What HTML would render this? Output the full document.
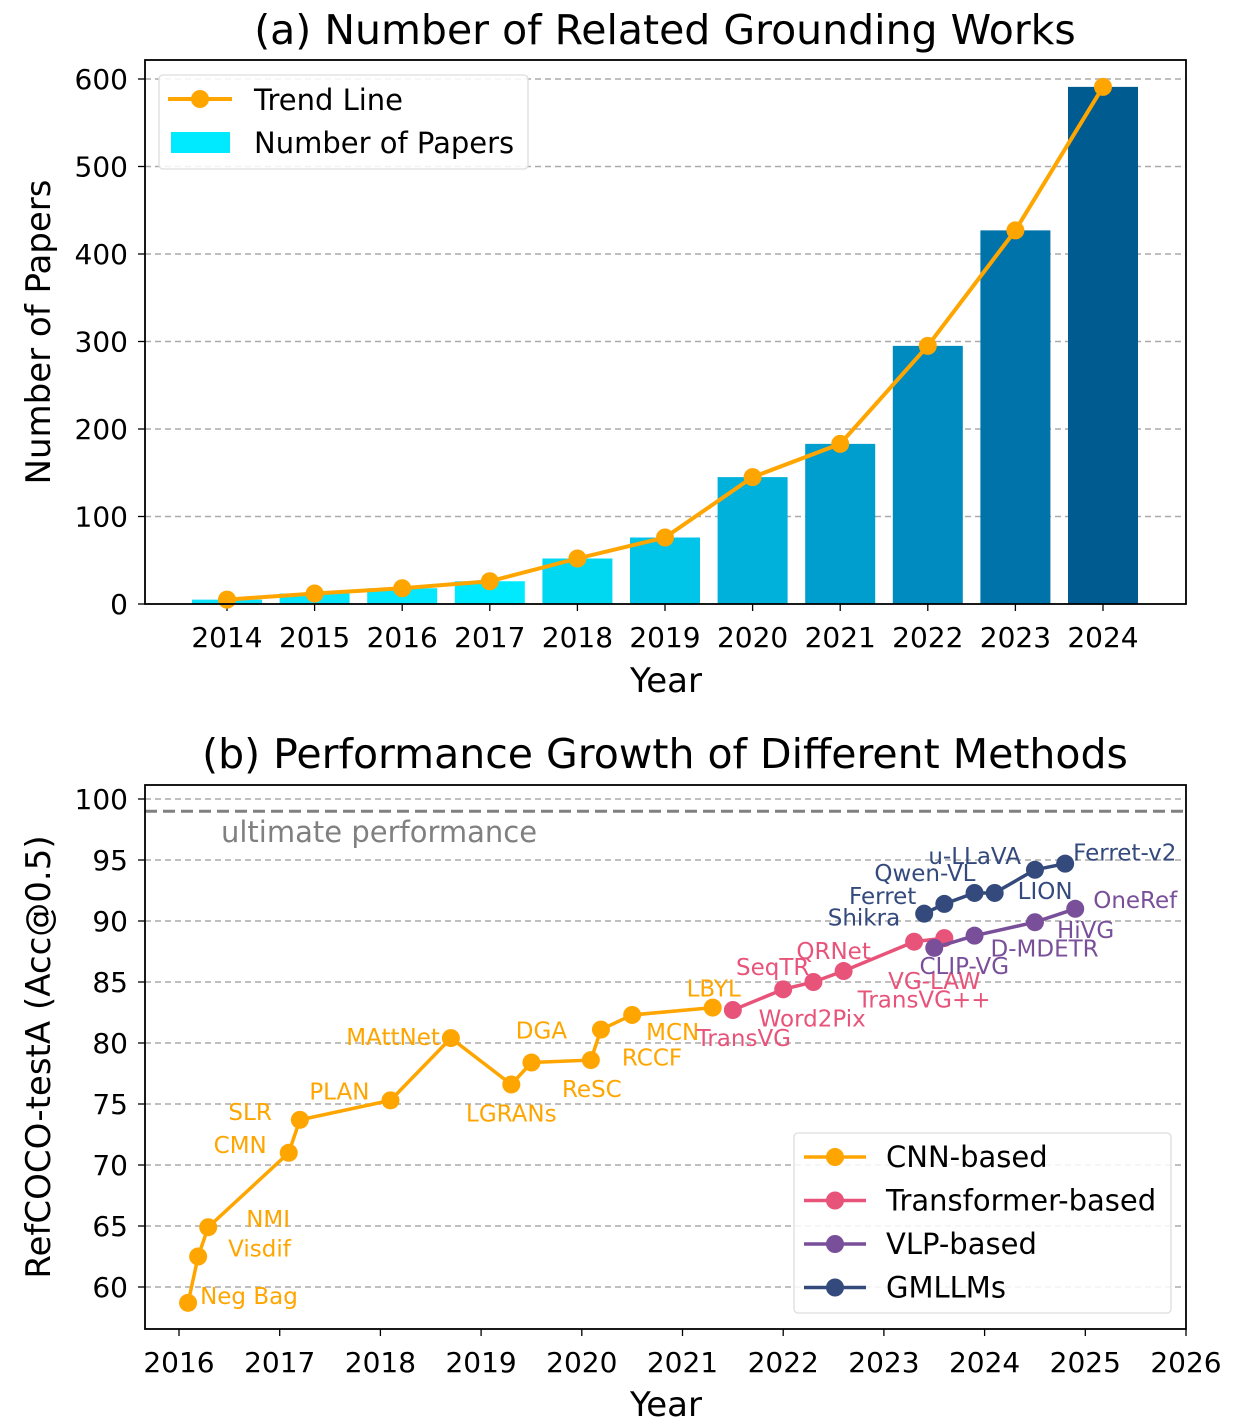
<!DOCTYPE html>
<html><head><meta charset="utf-8"><style>
body{margin:0;background:#fff}
svg{display:block;font-family:"DejaVu Sans","Liberation Sans",sans-serif}
</style></head><body>
<svg id="chart" width="1244" height="1426" viewBox="0 0 1244 1426" xmlns="http://www.w3.org/2000/svg">
<rect width="1244" height="1426" fill="#fff"/>
<g id="top"></g>
<g id="bot"></g>
</svg>
<script>
const years=[2014,2015,2016,2017,2018,2019,2020,2021,2022,2023,2024];
const papers=[5,12,18,26,52,76,145,183,295,427,591];
const barColors=['#10e2fa','#08e4fc','#04e7fe','#00eaff','#00d8f2','#00c4e8','#00b1dc','#009ecf','#008bc0','#0073aa','#005b91'];
const yTicksTop=[0,100,200,300,400,500,600];

const cnnX=[2016.09,2016.19,2016.29,2017.09,2017.2,2018.1,2018.7,2019.3,2019.5,2020.09,2020.19,2020.5,2021.3];
const cnnY=[58.7,62.5,64.9,71.0,73.7,75.3,80.4,76.6,78.4,78.6,81.1,82.3,82.9];
const cnnL=['Neg Bag','Visdif','NMI','CMN','SLR','PLAN','MAttNet','LGRANs','DGA','ReSC','RCCF','MCN','LBYL'];
const trX=[2021.5,2022.0,2022.3,2022.6,2023.3,2023.6];
const trY=[82.7,84.4,85.0,85.9,88.3,88.6];
const trL=['TransVG','Word2Pix','SeqTR','QRNet','TransVG++','VG-LAW'];
const vlpX=[2023.5,2023.9,2024.5,2024.9];
const vlpY=[87.8,88.8,89.9,91.0];
const vlpL=['CLIP-VG','D-MDETR','HiVG','OneRef'];
const gmX=[2023.4,2023.6,2023.9,2024.1,2024.5,2024.8];
const gmY=[90.6,91.4,92.3,92.3,94.2,94.7];
const gmL=['Shikra','Ferret','Qwen-VL','LION','u-LLaVA','Ferret-v2'];
const xTicksBot=[2016,2017,2018,2019,2020,2021,2022,2023,2024,2025,2026];
const yTicksBot=[60,65,70,75,80,85,90,95,100];

const NS='http://www.w3.org/2000/svg';
function mk(p,t,a,txt){const e=document.createElementNS(NS,t);for(const k in a)e.setAttribute(k,a[k]);if(txt!==undefined)e.textContent=txt;p.appendChild(e);return e;}

// ---- top chart
const T=document.getElementById('top');
const tx=y=>227+(y-2014)*87.6, ty=v=>604-v*0.875;
mk(T,'text',{x:665,y:44,'font-size':41,'text-anchor':'middle',},'(a) Number of Related Grounding Works');
yTicksTop.forEach(v=>{
 if(v>0){const g=mk(T,'line',{x1:145,x2:1186,y1:ty(v),y2:ty(v),stroke:'#aaa','stroke-dasharray':'6,4','stroke-width':1.5});}
 const l=mk(T,'text',{x:128,y:ty(v)+10,'font-size':28,'text-anchor':'end'},String(v));
 
 mk(T,'line',{x1:138,x2:145,y1:ty(v),y2:ty(v),stroke:'#000','stroke-width':1.3});
});
years.forEach((y,i)=>{
 const b=mk(T,'rect',{x:tx(y)-35,y:ty(papers[i]),width:70,height:papers[i]*0.875,fill:barColors[i]});
 
 mk(T,'line',{x1:tx(y),x2:tx(y),y1:604,y2:611,stroke:'#000','stroke-width':1.3});
 const l=mk(T,'text',{x:tx(y),y:647,'font-size':28,'text-anchor':'middle'},String(y));
 
});
const tl=mk(T,'polyline',{points:years.map((y,i)=>tx(y)+','+ty(papers[i])).join(' '),fill:'none',stroke:'#FFA500','stroke-width':4});

years.forEach((y,i)=>{const c=mk(T,'circle',{cx:tx(y),cy:ty(papers[i]),r:9,fill:'#FFA500'});});
mk(T,'rect',{x:145,y:60,width:1041,height:544,fill:'none',stroke:'#000','stroke-width':1.8,});
mk(T,'text',{x:666,y:692,'font-size':34,'text-anchor':'middle',},'Year');
mk(T,'text',{x:0,y:0,'font-size':34,'text-anchor':'middle',transform:'translate(50,332) rotate(-90)',},'Number of Papers');
const lg=mk(T,'g',{});
mk(lg,'rect',{x:159,y:75,width:369,height:94,rx:4,fill:'#fff','fill-opacity':0.85,stroke:'#ddd','stroke-width':1.3});
mk(lg,'line',{x1:168,x2:232,y1:99,y2:99,stroke:'#FFA500','stroke-width':4});
mk(lg,'circle',{cx:200,cy:99,r:9,fill:'#FFA500'});
mk(lg,'text',{x:254,y:110,'font-size':29},'Trend Line');
mk(lg,'rect',{x:171,y:132,width:59,height:21,fill:'#00eaff'});
mk(lg,'text',{x:254,y:153,'font-size':29},'Number of Papers');

// ---- bottom chart
const B=document.getElementById('bot');
const bx=y=>179+(y-2016)*100.7, by=v=>799+(100-v)*12.2;
mk(B,'text',{x:665,y:768,'font-size':41,'text-anchor':'middle',},'(b) Performance Growth of Different Methods');
yTicksBot.forEach(v=>{
 const g=mk(B,'line',{x1:145,x2:1186,y1:by(v),y2:by(v),stroke:'#aaa','stroke-dasharray':'6,4','stroke-width':1.5});
 
 const l=mk(B,'text',{x:128,y:by(v)+10,'font-size':28,'text-anchor':'end'},String(v));
 
 mk(B,'line',{x1:138,x2:145,y1:by(v),y2:by(v),stroke:'#000','stroke-width':1.3});
});
xTicksBot.forEach(y=>{
 mk(B,'line',{x1:bx(y),x2:bx(y),y1:1329,y2:1336,stroke:'#000','stroke-width':1.3});
 const l=mk(B,'text',{x:bx(y),y:1372,'font-size':28,'text-anchor':'middle'},String(y));
 
});
mk(B,'line',{x1:145,x2:1186,y1:by(99),y2:by(99),stroke:'#808080','stroke-width':3,'stroke-dasharray':'12,6',});
mk(B,'text',{x:221,y:842,'font-size':29,fill:'#808080',},'ultimate performance');
const offs={
'Neg Bag':[12,1,'start'],'Visdif':[30,0,'start'],'NMI':[38,0,'start'],'CMN':[-22,0,'end'],'SLR':[-28,0,'end'],
'PLAN':[-21,-1,'end'],'MAttNet':[-11,7,'end'],'LGRANs':[0,37,'middle'],'DGA':[10,-24,'middle'],'ReSC':[1,37,'middle'],
'RCCF':[21,36,'start'],'MCN':[14,25,'start'],'LBYL':[1,-11,'middle'],
'TransVG':[11,36,'middle'],'Word2Pix':[29,37,'middle'],'SeqTR':[-4,-7,'end'],'QRNet':[-10,-12,'middle'],'TransVG++':[10,66,'middle'],'VG-LAW':[-10,51,'middle'],
'CLIP-VG':[30,26,'middle'],'D-MDETR':[16,21,'start'],'HiVG':[22,16,'start'],'OneRef':[18,-1,'start'],
'Shikra':[-24,12,'end'],'Ferret':[-28,0,'end'],'Qwen-VL':[1,-12,'end'],'LION':[23,6,'start'],'u-LLaVA':[-14,-6,'end'],'Ferret-v2':[8,-3,'start']};
function series(X,Y,L,col,name){
 const g=mk(B,'g',{});
 const pl=mk(g,'polyline',{points:X.map((x,i)=>bx(x)+','+by(Y[i])).join(' '),fill:'none',stroke:col,'stroke-width':3.5});
 
 X.forEach((x,i)=>{
  const c=mk(g,'circle',{cx:bx(x),cy:by(Y[i]),r:9,fill:col});
  
  const o=offs[L[i]]||[8,-8,'start'];
  const t=mk(g,'text',{x:bx(x)+o[0],y:by(Y[i])+o[1],'font-size':23,fill:col,'text-anchor':o[2]},L[i]);
  
 });
}
series(cnnX,cnnY,cnnL,'#FFA500','cnn');
series(trX,trY,trL,'#E8537A','transformer');
series(vlpX,vlpY,vlpL,'#7A4F9A','vlp');
series(gmX,gmY,gmL,'#344A7D','gmllm');
mk(B,'rect',{x:145,y:785,width:1041,height:544,fill:'none',stroke:'#000','stroke-width':1.8,});
mk(B,'text',{x:666,y:1416,'font-size':34,'text-anchor':'middle',},'Year');
mk(B,'text',{x:0,y:0,'font-size':34,'text-anchor':'middle',transform:'translate(50,1057) rotate(-90)',},'RefCOCO-testA (Acc@0.5)');
const lg2=mk(B,'g',{});
mk(lg2,'rect',{x:794,y:1133,width:377,height:180,rx:4,fill:'#fff','fill-opacity':0.85,stroke:'#ddd','stroke-width':1.3});
[['CNN-based','#FFA500'],['Transformer-based','#E8537A'],['VLP-based','#7A4F9A'],['GMLLMs','#344A7D']].forEach((e,i)=>{
 const y=1157+i*43.5;
 mk(lg2,'line',{x1:804,x2:866,y1:y,y2:y,stroke:e[1],'stroke-width':3.5});
 mk(lg2,'circle',{cx:835,cy:y,r:9,fill:e[1]});
 const t=mk(lg2,'text',{x:886,y:y+10,'font-size':29},e[0]);
 
});
</script>
</body></html>
